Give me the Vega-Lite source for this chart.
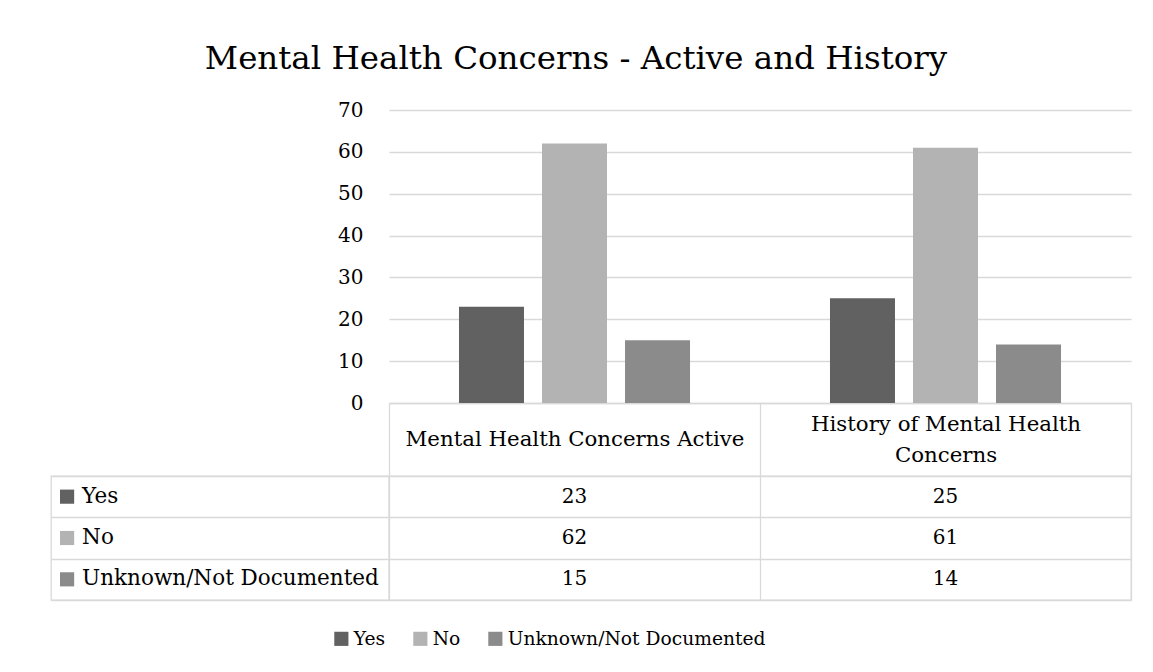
{
  "$schema": "https://vega.github.io/schema/vega-lite/v6.json",
  "padding": {"left": 50, "top": 42, "right": 23, "bottom": 10},
  "title": {"text": "Mental Health Concerns - Active and History", "fontSize": 32.5, "font": "DejaVu Serif", "fontWeight": "normal", "color": "#000", "anchor": "middle", "dx": -15, "offset": 25},
  "datasets": {
    "d": [
      {"category": "Mental Health Concerns Active", "series": "Yes", "value": 23},
      {"category": "Mental Health Concerns Active", "series": "No", "value": 62},
      {"category": "Mental Health Concerns Active", "series": "Unknown/Not Documented", "value": 15},
      {"category": "History of Mental Health Concerns", "series": "Yes", "value": 25},
      {"category": "History of Mental Health Concerns", "series": "No", "value": 61},
      {"category": "History of Mental Health Concerns", "series": "Unknown/Not Documented", "value": 14}
    ]
  },
  "columns": 2,
  "spacing": {"row": 73, "column": 0},
  "bounds": "flush",
  "concat": [
    {"data": {"values": []}, "mark": "point", "width": 338, "height": 293},
    {
      "data": {"name": "d"},
      "width": 742,
      "height": 293,
      "mark": {"type": "bar"},
      "encoding": {
        "x": {"field": "category", "type": "nominal", "sort": ["Mental Health Concerns Active", "History of Mental Health Concerns"],
          "scale": {"type": "band", "paddingInner": 0, "paddingOuter": 0},
          "axis": {"title": null, "tickBand": "extent", "tickSize": 73, "tickColor": "#d9d9d9", "tickWidth": 1.3, "domainColor": "#d9d9d9", "domainWidth": 1.3, "labelAngle": 0,
            "labelPadding": {"condition": {"test": "datum.label == 'History of Mental Health Concerns'", "value": -52}, "value": -37},
            "labelBaseline": "middle", "labelAlign": "center", "labelLimit": 400, "labelLineHeight": 31, "labelFontSize": 21.3, "grid": false,
            "labelExpr": "datum.label == 'History of Mental Health Concerns' ? ['History of Mental Health', 'Concerns'] : datum.label"}},
        "xOffset": {"field": "series", "type": "nominal", "sort": ["Yes", "No", "Unknown/Not Documented"], "scale": {"paddingInner": 0.217, "paddingOuter": 0.843}},
        "y": {"field": "value", "type": "quantitative", "scale": {"domain": [0, 70]},
          "axis": {"title": null, "values": [0, 10, 20, 30, 40, 50, 60, 70], "domain": false, "ticks": false, "labelPadding": 26, "gridColor": "#d9d9d9", "gridWidth": 1.3, "labelFontSize": 20}},
        "color": {"field": "series", "type": "nominal", "sort": ["Yes", "No", "Unknown/Not Documented"],
          "scale": {"domain": ["Yes", "No", "Unknown/Not Documented"], "range": ["#616161", "#b3b3b3", "#8b8b8b"]},
          "legend": {"orient": "none", "legendX": 281, "legendY": 519, "direction": "horizontal", "title": null, "symbolType": "square", "symbolSize": 200, "labelFontSize": 18.7, "labelLimit": 400, "columnPadding": 25, "labelOffset": 3, "symbolStrokeWidth": 0}}
      }
    },
    {
      "data": {"name": "d"},
      "transform": [{"filter": "datum.category == 'Mental Health Concerns Active'"}],
      "width": 338,
      "height": 124,
      "view": {"stroke": "#d9d9d9", "strokeWidth": 1.3},
      "encoding": {
        "y": {"field": "series", "type": "nominal", "sort": ["Yes", "No", "Unknown/Not Documented"],
          "scale": {"type": "band", "paddingInner": 0, "paddingOuter": 0},
          "axis": {"title": null, "labels": false, "ticks": false, "domain": false, "grid": true, "tickBand": "extent", "gridColor": "#d9d9d9", "gridWidth": 1.3}},
        "x": {"datum": 0, "type": "quantitative", "scale": {"domain": [-0.05, 1]}, "axis": null}
      },
      "layer": [
        {"mark": {"type": "square", "size": 200, "opacity": 1},
          "encoding": {"color": {"field": "series", "type": "nominal", "sort": ["Yes", "No", "Unknown/Not Documented"],
            "legend": {"orient": "none", "legendX": 281, "legendY": 519, "direction": "horizontal", "title": null, "symbolType": "square", "symbolSize": 200, "labelFontSize": 18.7, "labelLimit": 400, "columnPadding": 25, "labelOffset": 3, "symbolStrokeWidth": 0}}}},
        {"mark": {"type": "text", "align": "left", "baseline": "middle", "dx": 15, "fontSize": 21.5, "color": "#000"},
          "encoding": {"text": {"field": "series", "type": "nominal"}}}
      ]
    },
    {
      "data": {"name": "d"},
      "width": 742,
      "height": 124,
      "view": {"stroke": "#d9d9d9", "strokeWidth": 1.3},
      "mark": {"type": "text", "fontSize": 20, "color": "#000", "baseline": "middle"},
      "encoding": {
        "x": {"field": "category", "type": "nominal", "sort": ["Mental Health Concerns Active", "History of Mental Health Concerns"],
          "scale": {"type": "band", "paddingInner": 0, "paddingOuter": 0},
          "axis": {"title": null, "labels": false, "ticks": false, "domain": false, "grid": true, "tickBand": "extent", "gridColor": "#d9d9d9", "gridWidth": 1.3}},
        "y": {"field": "series", "type": "nominal", "sort": ["Yes", "No", "Unknown/Not Documented"],
          "scale": {"type": "band", "paddingInner": 0, "paddingOuter": 0},
          "axis": {"title": null, "labels": false, "ticks": false, "domain": false, "grid": true, "tickBand": "extent", "gridColor": "#d9d9d9", "gridWidth": 1.3}},
        "text": {"field": "value", "type": "quantitative"}
      }
    }
  ],
  "config": {
    "font": "DejaVu Serif",
    "view": {"stroke": null},
    "axis": {"labelFont": "DejaVu Serif", "labelColor": "#000", "labelFontSize": 20},
    "legend": {"labelFont": "DejaVu Serif", "labelColor": "#000", "labelFontSize": 18.7},
    "text": {"font": "DejaVu Serif"}
  }
}
